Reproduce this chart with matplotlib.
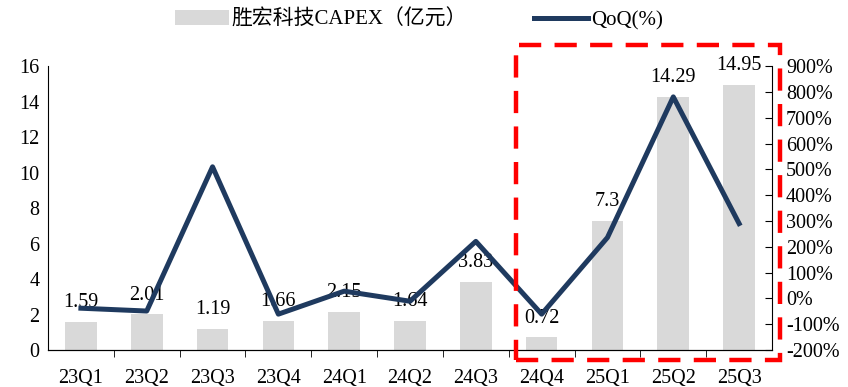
import matplotlib
matplotlib.use('Agg')
from matplotlib import pyplot as plt
from matplotlib.patches import Rectangle

plt.rcParams['font.family'] = ['Liberation Serif', 'Noto Sans CJK SC']
plt.rcParams['font.size'] = 14.5

quarters = ['23Q1', '23Q2', '23Q3', '23Q4', '24Q1', '24Q2', '24Q3', '24Q4', '25Q1', '25Q2', '25Q3']
capex = [1.59, 2.01, 1.19, 1.66, 2.15, 1.64, 3.83, 0.72, 7.3, 14.29, 14.95]
qoq = [-38, -49, 510, -61, 28, -11, 221, -61, 236, 781, 290]
right_ticks = [-200, -100, 0, 100, 200, 300, 400, 500, 600, 700, 800, 900]

fig = plt.figure(figsize=(8.48, 3.87), dpi=100)
ax = fig.add_axes([0.0566, 0.0956, 0.8538, 0.7334])
x = list(range(len(quarters)))

bars = ax.bar(x, capex, width=0.48, color='#D9D9D9', label='胜宏科技CAPEX（亿元）', zorder=1)
for xi, v in zip(x, capex):
    ax.annotate(f'{v}', (xi, v), xytext=(0, 7), textcoords='offset points',
                ha='center', va='bottom', fontsize=14.5, zorder=3)

ax.set_xlim(-0.5, len(quarters) - 0.5)
ax.set_ylim(0, 16)
ax.set_yticks(range(0, 17, 2))
ax.set_xticks(x)
ax.set_xticklabels(quarters)
ax.set_xticks([i + 0.5 for i in range(len(quarters) - 1)], minor=True)
ax.tick_params(axis='x', which='major', length=0, pad=14)
ax.tick_params(axis='x', which='minor', length=5, direction='out')
ax.tick_params(axis='y', length=0, pad=6)
ax.spines['top'].set_visible(False)
ax.spines['right'].set_visible(False)

ax2 = ax.twinx()
line, = ax2.plot(x, qoq, color='#1F3A5F', linewidth=3.6, label='QoQ(%)', zorder=4)
ax2.set_ylim(-200, 900)
ax2.set_yticks(right_ticks)
ax2.set_yticklabels([f'{t}%' for t in right_ticks])
ax2.tick_params(axis='y', direction='in', length=5, pad=10)
ax2.spines['top'].set_visible(False)
ax2.spines['left'].set_visible(False)

fig.legend(handles=[bars, line], loc='upper center', bbox_to_anchor=(0.494, 1.023),
           ncol=2, frameon=False, handlelength=2.6, columnspacing=3.2, fontsize=15,
           handletextpad=0.15)

rect = Rectangle((516 / 848, 1 - 360 / 387), (780 - 516) / 848, (360 - 45) / 387,
                 transform=fig.transFigure, fill=False, edgecolor='red', linewidth=3.2,
                 linestyle=(0, (5, 3)), zorder=10)
fig.patches.append(rect)

fig.savefig('out.png', dpi=100)
